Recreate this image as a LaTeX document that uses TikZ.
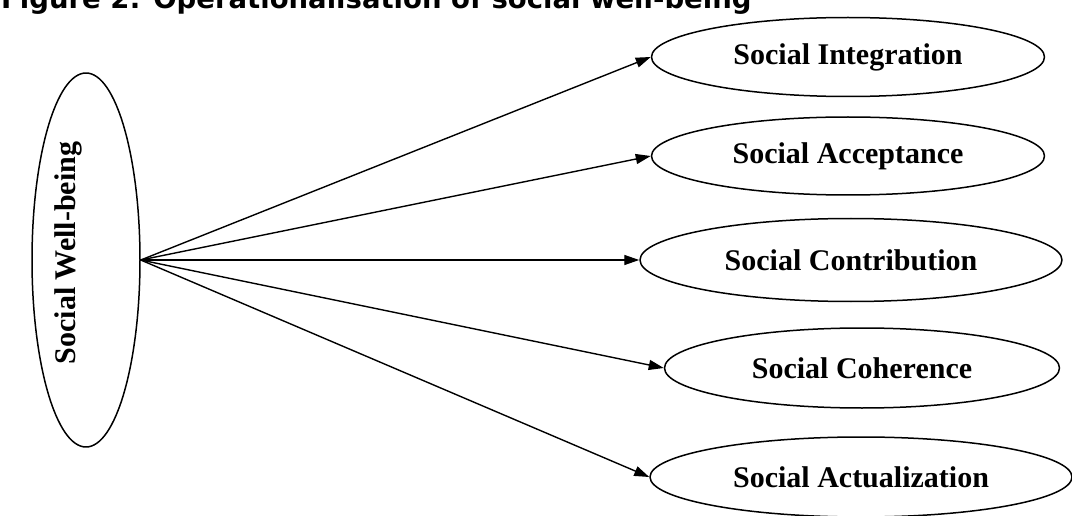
\documentclass[tikz,border=0pt]{standalone}
\usepackage{fontspec}
\setmainfont{Liberation Serif}
\newfontfamily\titlefont{DejaVu Sans}
\usetikzlibrary{arrows.meta,shapes.geometric}

\tikzset{
	dimbox/.style={draw, ellipse, line width=1.5pt, inner sep=0pt,
		font=\fontsize{30}{36}\selectfont\bfseries},
	link/.style={->, line width=1.4pt},
}

\begin{document}
\begin{tikzpicture}[line cap=round,line join=round,x=1pt,y=-1pt,>={Triangle[length=15pt,width=10pt]}]
	\useasboundingbox (0,0) rectangle (1072,516);
	\clip (0,0) rectangle (1072,516);
	% title, cut at the top edge
	\node[anchor=base west, inner sep=0pt, font=\titlefont\bfseries\fontsize{27.5}{33}\selectfont] (title) at (1,9) {Figure 2: Operationalisation of social well-being};
	% construct
	\node[dimbox, minimum width=108pt, minimum height=374pt] (swb) at (86,260) {};
	\node[rotate=90, inner sep=0pt, font=\fontsize{30}{36}\selectfont\bfseries] (swbtext) at (68,253) {Social Well-being};
	% dimensions
	\node[dimbox, minimum width=393pt, minimum height=79pt] (integ) at (848,57) {Social Integration};
	\node[dimbox, minimum width=393pt, minimum height=78pt] (accept) at (848,156) {Social Acceptance};
	\node[dimbox, minimum width=422pt, minimum height=83pt] (contrib) at (851,260) {Social Contribution};
	\node[dimbox, minimum width=395pt, minimum height=80pt] (coher) at (862,368) {Social Coherence};
	\node[dimbox, minimum width=422pt, minimum height=80pt] (actual) at (861,477) {Social Actualization};
	% arrows
	\foreach \d in {integ,accept,contrib,coher,actual}
		\draw[link] (swb.east) -- (\d.west);
\end{tikzpicture}
\end{document}
